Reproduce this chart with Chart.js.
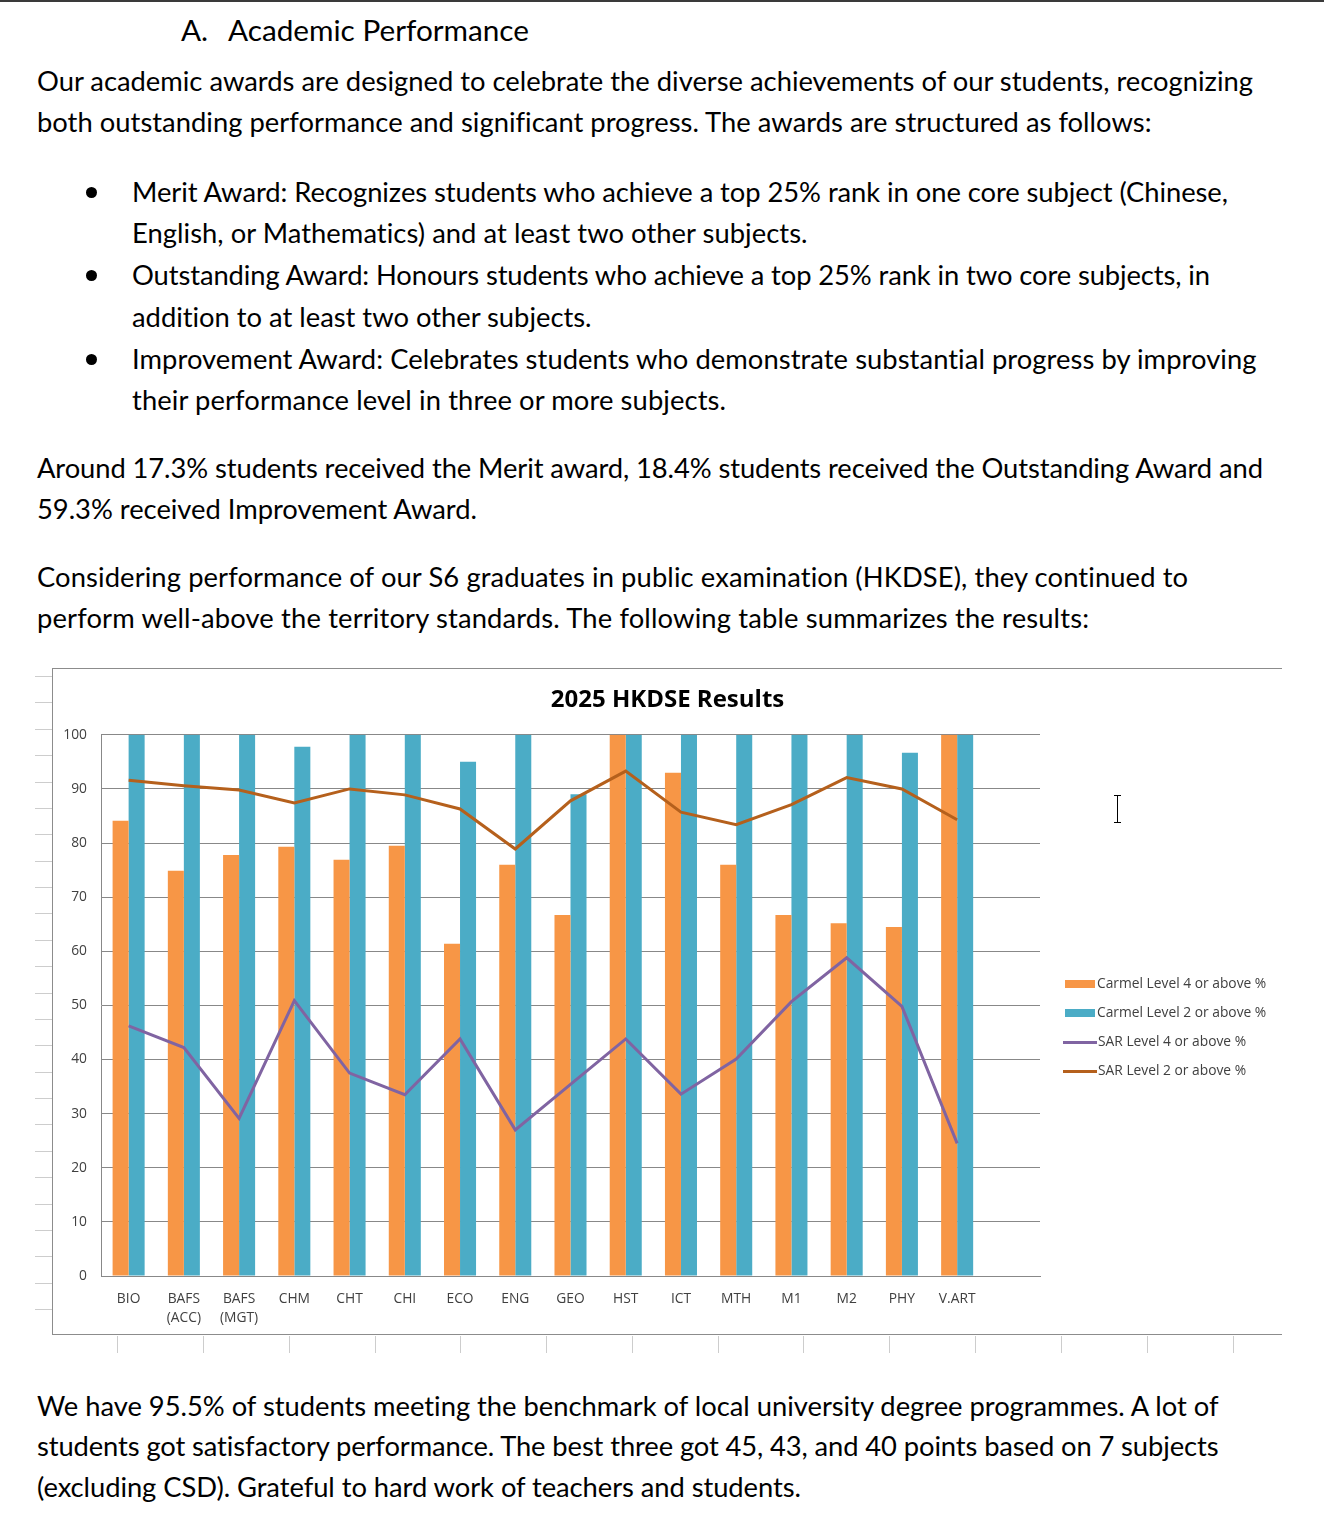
<!DOCTYPE html>
<html>
<head>
<meta charset="utf-8">
<script src="https://cdn.jsdelivr.net/npm/chart.js@4.4.0/dist/chart.umd.min.js"></script>
<style>
html,body{margin:0;padding:0;background:#fff;}
body{width:1324px;height:1524px;position:relative;overflow:hidden;font-family:Lato,"Open Sans",sans-serif;color:#000;}
.topbar{position:absolute;left:0;top:0;width:1324px;height:2px;background:#3a3a3a;}
.t{position:absolute;white-space:nowrap;line-height:40px;height:40px;}
.bul{position:absolute;width:11px;height:11px;border-radius:50%;background:#000;}
.row{position:absolute;left:35px;width:17px;height:1px;background:#cdcdcd;}
.col{position:absolute;top:1336px;width:1px;height:17px;background:#cdcdcd;}
#chartBox{position:absolute;left:52px;top:668px;width:1230px;height:667px;box-sizing:border-box;border-left:1px solid #8c8c8c;border-top:1px solid #8c8c8c;border-bottom:1px solid #8c8c8c;background:#fff;}
#c{position:absolute;left:0;top:0;}
#legend{position:absolute;left:1010px;top:304px;font-family:"Open Sans",sans-serif;font-size:13.8px;color:#404040;}
.li{position:relative;height:29px;line-height:20px;white-space:nowrap;}
.sw{display:inline-block;vertical-align:middle;margin-right:2px;}
.cursor{position:absolute;left:1117px;top:795px;width:1px;height:28px;background:#000;}
.cursor:before,.cursor:after{content:"";position:absolute;left:-3px;width:7px;height:1px;background:#000;}
.cursor:before{top:0;}
.cursor:after{bottom:0;}
</style>
</head>
<body>
<div class="topbar"></div>
<div id="text"></div>
<div id="chartBox"><canvas id="c" width="1229" height="665"></canvas><div id="legend"></div></div>
<div class="cursor"></div>
<script>
// ---- chart data ----
const categories = ["BIO", ["BAFS","(ACC)"], ["BAFS","(MGT)"], "CHM", "CHT", "CHI", "ECO", "ENG", "GEO", "HST", "ICT", "MTH", "M1", "M2", "PHY", "V.ART"];
const carmelL4 = [84.1, 74.9, 77.8, 79.3, 76.9, 79.5, 61.4, 76.0, 66.7, 100, 93.0, 76.0, 66.7, 65.2, 64.5, 100];
const carmelL2 = [100, 100, 100, 97.8, 100, 100, 95.0, 100, 89.0, 100, 100, 100, 100, 100, 96.7, 100];
const sarL4 = [46.2, 42.2, 29.1, 50.9, 37.5, 33.5, 43.8, 27.0, 35.4, 43.8, 33.6, 40.1, 50.7, 58.8, 49.8, 24.5];
const sarL2 = [91.6, 90.6, 89.8, 87.4, 90.0, 88.9, 86.3, 78.9, 87.8, 93.3, 85.7, 83.4, 87.1, 92.1, 90.0, 84.3];
const yTicks = [0, 10, 20, 30, 40, 50, 60, 70, 80, 90, 100];
const seriesNames = ["Carmel Level 4 or above %", "Carmel Level 2 or above %", "SAR Level 4 or above %", "SAR Level 2 or above %"];
const chartTitle = "2025 HKDSE Results";

// ---- page text ----
const lines = [
  {s:"A.", x:181, y:30, h:1},
  {s:"Academic Performance", x:228, y:30, r:529, h:1},
  {s:"Our academic awards are designed to celebrate the diverse achievements of our students, recognizing", x:37, y:81, r:1253},
  {s:"both outstanding performance and significant progress. The awards are structured as follows:", x:37, y:122, r:1151},
  {s:"Merit Award: Recognizes students who achieve a top 25% rank in one core subject (Chinese,", x:132, y:192, r:1228},
  {s:"English, or Mathematics) and at least two other subjects.", x:132, y:233, r:808},
  {s:"Outstanding Award: Honours students who achieve a top 25% rank in two core subjects, in", x:132, y:275, r:1210},
  {s:"addition to at least two other subjects.", x:132, y:317, r:592},
  {s:"Improvement Award: Celebrates students who demonstrate substantial progress by improving", x:132, y:359, r:1257},
  {s:"their performance level in three or more subjects.", x:132, y:400, r:726},
  {s:"Around 17.3% students received the Merit award, 18.4% students received the Outstanding Award and", x:37, y:468, r:1263},
  {s:"59.3% received Improvement Award.", x:37, y:509, r:477},
  {s:"Considering performance of our S6 graduates in public examination (HKDSE), they continued to", x:37, y:577, r:1189},
  {s:"perform well-above the territory standards. The following table summarizes the results:", x:37, y:618, r:1089},
  {s:"We have 95.5% of students meeting the benchmark of local university degree programmes. A lot of", x:37, y:1406, r:1219},
  {s:"students got satisfactory performance. The best three got 45, 43, and 40 points based on 7 subjects", x:37, y:1446, r:1219},
  {s:"(excluding CSD). Grateful to hard work of teachers and students.", x:37, y:1487, r:801}
];
const textBox = document.getElementById('text');
const probe = document.createElement('span');
probe.style.cssText = 'position:absolute;visibility:hidden;white-space:nowrap;font-size:100px;font-family:Lato,sans-serif;';
probe.textContent = lines[2].s;
document.body.appendChild(probe);
const fs = 100 * (lines[2].r - lines[2].x) / probe.getBoundingClientRect().width;
probe.textContent = lines[1].s;
const hfs = 100 * (lines[1].r - lines[1].x) / probe.getBoundingClientRect().width;
probe.remove();
lines.forEach(l => {
  const d = document.createElement('div');
  d.className = 't';
  d.textContent = l.s;
  d.style.left = l.x + 'px';
  d.style.top = (l.y - 20) + 'px';
  d.style.fontSize = (l.h ? hfs : fs).toFixed(2) + 'px';
  textBox.appendChild(d);
  if (l.r && !l.h) {
    const w = d.getBoundingClientRect().width;
    const n = l.s.length - 1;
    const ls = ((l.r - l.x) - w) / n;
    if (Math.abs(ls) < 0.6) d.style.letterSpacing = ls.toFixed(3) + 'px';
  }
});
[192, 275, 359].forEach(y => {
  const b = document.createElement('div');
  b.className = 'bul';
  b.style.left = '86px'; b.style.top = (y - 5) + 'px';
  document.body.appendChild(b);
});
// spreadsheet grid remnants
for (let k = 0; k <= 24; k++) {
  const r = document.createElement('div');
  r.className = 'row';
  r.style.top = Math.round(676 + k * 26.375) + 'px';
  document.body.appendChild(r);
}
[117, 203, 289, 375, 460, 546, 632, 718, 803, 889, 975, 1061, 1147, 1233].forEach(x => {
  const c = document.createElement('div');
  c.className = 'col';
  c.style.left = x + 'px';
  document.body.appendChild(c);
});

// ---- chart ----
const colors = ['#F79646', '#4BACC6', '#8064A2', '#B5601C'];
const labels = categories.concat([""]);
const pad = a => a.concat([null]);
const gridColor = '#888888';
const tickFont = {family: '"Open Sans", sans-serif', size: 13.8};
const chart = new Chart(document.getElementById('c'), {
  type: 'bar',
  data: {
    labels: labels,
    datasets: [
      {type:'bar', label: seriesNames[0], data: pad(carmelL4), backgroundColor: colors[0], order: 2, categoryPercentage: 0.58, barPercentage: 1.0},
      {type:'bar', label: seriesNames[1], data: pad(carmelL2), backgroundColor: colors[1], order: 2, categoryPercentage: 0.58, barPercentage: 1.0},
      {type:'line', label: seriesNames[2], data: pad(sarL4), borderColor: colors[2], backgroundColor: colors[2], borderWidth: 3, pointRadius: 0, tension: 0, order: 0},
      {type:'line', label: seriesNames[3], data: pad(sarL2), borderColor: colors[3], backgroundColor: colors[3], borderWidth: 3, pointRadius: 0, tension: 0, order: 0}
    ]
  },
  options: {
    responsive: false,
    animation: false,
    events: [],
    layout: {padding: 0},
    plugins: {
      legend: {display: false},
      tooltip: {enabled: false},
      title: {
        display: true, text: chartTitle, color: '#000',
        font: {family: '"Open Sans", sans-serif', size: 24, weight: 'bold'},
        padding: {top: 17, bottom: 20}
      }
    },
    scales: {
      x: {
        grid: {display: false, drawTicks: false},
        border: {display: true, color: gridColor, width: 1},
        ticks: {color: '#404040', font: Object.assign({lineHeight: 1.4}, tickFont), padding: 13, maxRotation: 0, autoSkip: false},
        afterFit: s => { s.height = 58; }
      },
      y: {
        min: 0, max: 100,
        afterBuildTicks: s => { s.ticks = yTicks.map(v => ({value: v})); },
        grid: {color: gridColor, lineWidth: 1, drawTicks: false},
        border: {display: true, color: gridColor, width: 1},
        ticks: {color: '#404040', font: tickFont, padding: 14},
        afterFit: s => { s.width = 48; }
      },
      // empty right-hand area reserved for the legend
      yRight: {
        position: 'right', min: 0, max: 100,
        grid: {display: false, drawTicks: false},
        border: {display: false},
        ticks: {display: false},
        afterFit: s => { s.width = 242; }
      }
    }
  }
});

// legend built from chart datasets
const lg = document.getElementById('legend');
chart.data.datasets.forEach(ds => {
  const row = document.createElement('div');
  row.className = 'li';
  const sw = document.createElement('span');
  sw.className = 'sw';
  if (ds.type === 'bar') {
    sw.style.cssText += 'width:30px;height:8px;margin-left:2px;background:' + ds.backgroundColor;
  } else {
    sw.style.cssText += 'width:34px;height:3px;background:' + ds.borderColor + ';margin-right:1px;';
  }
  row.appendChild(sw);
  row.appendChild(document.createTextNode(ds.label));
  lg.appendChild(row);
});
</script>
</body>
</html>
